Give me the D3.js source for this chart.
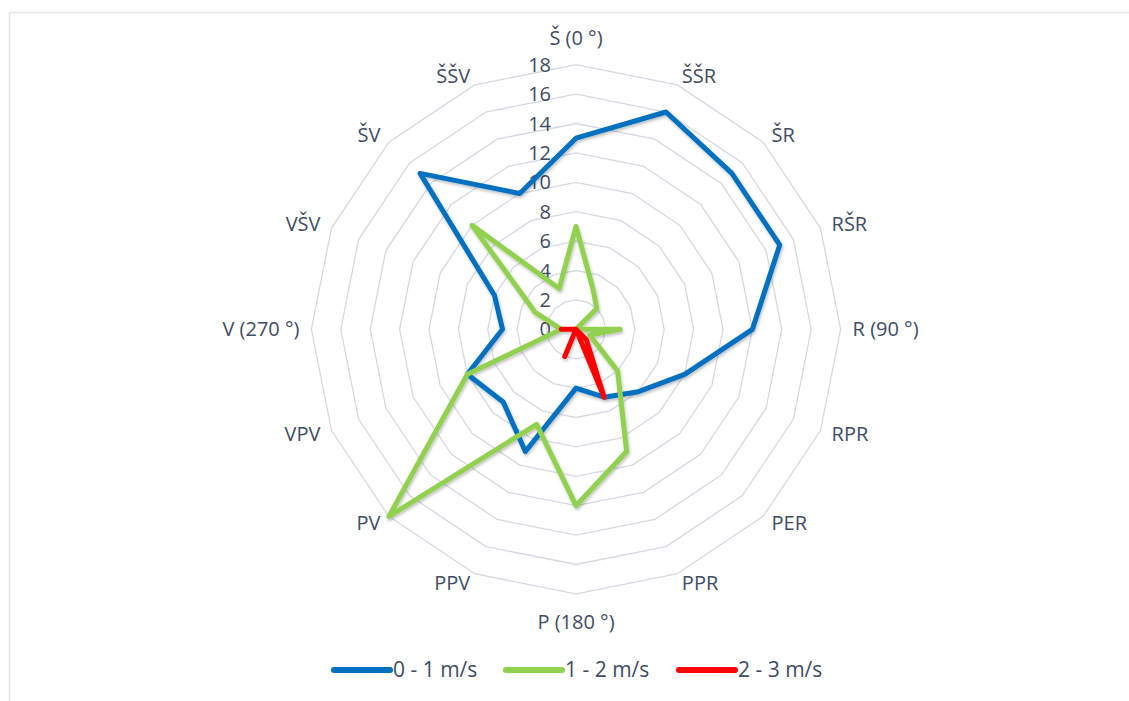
<!DOCTYPE html>
<html>
<head>
<meta charset="utf-8">
<script src="https://cdn.jsdelivr.net/npm/d3@7"></script>
<style>
  html, body { margin: 0; padding: 0; background: #fff; }
  svg { display: block; font-family: "Open Sans", "Noto Sans", sans-serif; }
</style>
</head>
<body>
<svg width="1129" height="701"></svg>
<script>
const directions = ["Š (0 °)", "ŠŠR", "ŠR", "RŠR", "R (90 °)", "RPR", "PER", "PPR",
  "P (180 °)", "PPV", "PV", "VPV", "V (270 °)", "VŠV", "ŠV", "ŠŠV"];

const speed01 = [13, 16, 15, 15, 12, 8, 6, 5, 4, 9, 7, 8, 5, 6, 15, 10];
const speed12 = [7, 3, 2, 0, 3, 1, 4, 9, 12, 7, 18, 8, 1, 3, 10, 3];
const speed23 = [0, 0, 0, 0, 0, 0, 1, 5, 0, 2, 0, 0, 1, 0, 0, 0];

const seriesNames = ["0 - 1 m/s", "1 - 2 m/s", "2 - 3 m/s"];
const seriesColors = ["#0070c0", "#92d050", "#ff0000"];
const tickValues = [0, 2, 4, 6, 8, 10, 12, 14, 16, 18];

const textColor = "#3f4d63";
const gridColor = "#d3d9e2";

const svg = d3.select("svg");

// light frame of the chart area (runs off the right and bottom edges)
svg.append("rect")
  .attr("x", 9.5).attr("y", 12.5)
  .attr("width", 1200).attr("height", 760)
  .attr("fill", "#fff")
  .attr("stroke", "#e3e6ea")
  .attr("stroke-width", 1.5);

const defs = svg.append("defs");
defs.append("filter")
  .attr("id", "shadow")
  .attr("x", "-10%").attr("y", "-10%")
  .attr("width", "120%").attr("height", "120%")
  .append("feDropShadow")
  .attr("dx", 1).attr("dy", 2)
  .attr("stdDeviation", 1.5)
  .attr("flood-color", "#000")
  .attr("flood-opacity", 0.25);

const cx = 576;
const cy = 329.3;
const r = d3.scaleLinear().domain([0, 18]).range([0, 264.6]);
const angle = d3.scalePoint()
  .domain(d3.range(directions.length + 1))
  .range([0, 2 * Math.PI]);

const g = svg.append("g").attr("transform", `translate(${cx},${cy})`);

function point(i, v) {
  const a = angle(i);
  return [r(v) * Math.sin(a), -r(v) * Math.cos(a)];
}

// polygon grid rings
const ring = d3.line().curve(d3.curveLinearClosed);
g.append("g")
  .selectAll("path")
  .data(tickValues.filter((t) => t > 0))
  .join("path")
  .attr("d", (t) => ring(directions.map((d, i) => point(i, t))))
  .attr("fill", "none")
  .attr("stroke", gridColor)
  .attr("stroke-width", 1.3);

// radial value labels
g.append("g")
  .selectAll("text")
  .data(tickValues)
  .join("text")
  .attr("x", -25)
  .attr("y", (t) => -r(t))
  .attr("dy", "0.35em")
  .attr("text-anchor", "end")
  .attr("fill", textColor)
  .attr("font-size", 20)
  .text((t) => t);

// category labels around the outside
g.append("g")
  .selectAll("text")
  .data(directions)
  .join("text")
  .each(function (d, i) {
    const a = angle(i);
    const s = Math.sin(a);
    const c = Math.cos(a);
    const [vx, vy] = point(i, 18);
    const el = d3.select(this);
    if (Math.abs(s) < 0.01) {
      el.attr("x", vx)
        .attr("y", vy + (c > 0 ? -27 : 28))
        .attr("text-anchor", "middle");
    } else {
      el.attr("x", vx + 12 * s)
        .attr("y", vy - 10 * c)
        .attr("text-anchor", s > 0 ? "start" : "end");
    }
  })
  .attr("dy", "0.35em")
  .attr("fill", textColor)
  .attr("font-size", 20)
  .text((d) => d);

// series polygons
const series = [speed01, speed12, speed23];
g.append("g")
  .attr("filter", "url(#shadow)")
  .selectAll("path")
  .data(series)
  .join("path")
  .attr("d", (vals) => ring(vals.map((v, i) => point(i, v))))
  .attr("fill", "none")
  .attr("stroke", (vals, k) => seriesColors[k])
  .attr("stroke-width", 5)
  .attr("stroke-linejoin", "round")
  .attr("stroke-linecap", "round");

// legend
const legendX = [334, 506, 679];
const legend = svg.append("g")
  .selectAll("g")
  .data(seriesNames)
  .join("g")
  .attr("transform", (d, k) => `translate(${legendX[k]},670)`);

legend.append("line")
  .attr("x1", 0).attr("x2", 56)
  .attr("stroke", (d, k) => seriesColors[k])
  .attr("stroke-width", 6)
  .attr("stroke-linecap", "round");

legend.append("text")
  .attr("x", 59)
  .attr("dy", "0.35em")
  .attr("fill", textColor)
  .attr("font-size", 21)
  .text((d) => d);
</script>
</body>
</html>
